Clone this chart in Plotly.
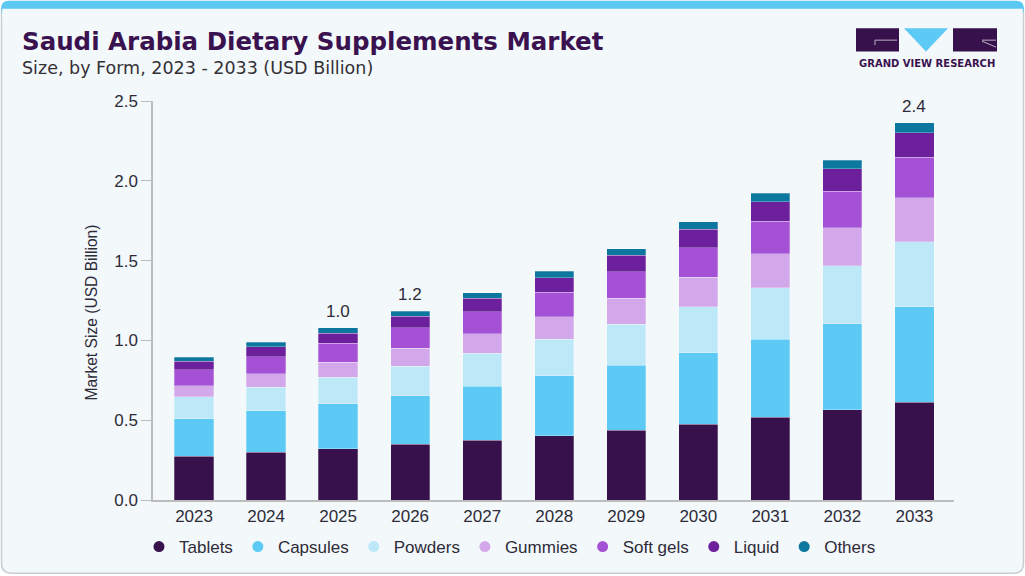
import plotly.graph_objects as go

# ---------------- data ----------------
years = ["2023", "2024", "2025", "2026", "2027", "2028", "2029", "2030", "2031", "2032", "2033"]
tablets = [0.273, 0.298, 0.321, 0.348, 0.373, 0.404, 0.438, 0.475, 0.517, 0.565, 0.612]
capsules = [0.235, 0.260, 0.281, 0.306, 0.339, 0.373, 0.407, 0.447, 0.490, 0.538, 0.599]
powders = [0.138, 0.148, 0.167, 0.185, 0.206, 0.229, 0.256, 0.289, 0.323, 0.364, 0.406]
gummies = [0.070, 0.085, 0.095, 0.112, 0.125, 0.143, 0.162, 0.185, 0.212, 0.239, 0.278]
soft_gels = [0.100, 0.108, 0.119, 0.129, 0.137, 0.154, 0.167, 0.185, 0.204, 0.229, 0.252]
liquid = [0.054, 0.061, 0.062, 0.071, 0.083, 0.091, 0.103, 0.115, 0.124, 0.139, 0.154]
others = [0.023, 0.027, 0.033, 0.033, 0.036, 0.038, 0.040, 0.046, 0.053, 0.056, 0.062]
series_names = ["Tablets", "Capsules", "Powders", "Gummies", "Soft gels", "Liquid", "Others"]
total_labels = {"2025": "1.0", "2026": "1.2", "2033": "2.4"}
y_ticks = [0.0, 0.5, 1.0, 1.5, 2.0, 2.5]

series_values = [tablets, capsules, powders, gummies, soft_gels, liquid, others]
colors = ["#37114B", "#5DCAF6", "#BDE8F8", "#D3A8EA", "#A451D6", "#6D209B", "#0C779F"]

W, H = 1025, 576
ML, MR, MT, MB = 153, 71, 101, 75
PW, PH = W - ML - MR, H - MT - MB


def px(x):
    return (x - ML) / PW


def py(y):
    return (H - MB - y) / PH


TEXT = "#2E2B38"
FONT = "Liberation Sans, Arial, sans-serif"

fig = go.Figure()

for name, vals, col in zip(series_names, series_values, colors):
    fig.add_trace(go.Bar(
        x=years, y=vals, name=name, marker_color=col,
        marker_line=dict(width=0.6, color="rgba(255,255,255,0.45)"),
        showlegend=False,
    ))

for name, col in zip(series_names, colors):
    fig.add_trace(go.Scatter(
        x=[None], y=[None], mode="markers", name=name,
        marker=dict(symbol="circle", size=11, color=col),
        showlegend=True,
    ))

annotations = []
for yr, txt in total_labels.items():
    i = years.index(yr)
    tot = sum(v[i] for v in series_values)
    annotations.append(dict(xref="x", yref="y", x=i, y=tot, text=txt, showarrow=False, yanchor="bottom",
                            yshift=5, font=dict(size=17, color=TEXT, family=FONT)))

# titles
annotations.append(dict(xref="paper", yref="paper", x=px(20), y=py(41), xanchor="left", yanchor="middle",
                        text="Saudi Arabia Dietary Supplements Market", showarrow=False,
                        font=dict(size=24.5, color="#3A1250", family="DejaVu Sans, sans-serif", weight="bold")))
annotations.append(dict(xref="paper", yref="paper", x=px(20), y=py(68), xanchor="left", yanchor="middle",
                        text="Size, by Form, 2023 - 2033 (USD Billion)", showarrow=False,
                        font=dict(size=17.5, color="#333036", family="DejaVu Sans, sans-serif")))
annotations.append(dict(xref="paper", yref="paper", x=px(91), y=py(313), xanchor="center", yanchor="middle",
                        text="Market Size (USD Billion)", textangle=-90, showarrow=False,
                        font=dict(size=15.6, color=TEXT, family=FONT)))
annotations.append(dict(xref="paper", yref="paper", x=px(926.5), y=py(63.5), xanchor="center", yanchor="middle",
                        text="<b>GRAND VIEW RESEARCH</b>", showarrow=False,
                        font=dict(size=10, color="#3A1250", family="DejaVu Sans, sans-serif")))

# card shapes
def rrect(x0, y0, x1, y1, r):
    X0, X1 = px(x0), px(x1)
    Y0, Y1 = py(y0), py(y1)
    rx, ry = r / PW, r / PH
    return (f"M {X0+rx} {Y0} L {X1-rx} {Y0} Q {X1} {Y0} {X1} {Y0-ry} "
            f"L {X1} {Y1+ry} Q {X1} {Y1} {X1-rx} {Y1} L {X0+rx} {Y1} "
            f"Q {X0} {Y1} {X0} {Y1+ry} L {X0} {Y0-ry} Q {X0} {Y0} {X0+rx} {Y0} Z")


shapes = [
    dict(type="path", xref="paper", yref="paper", path=rrect(1.5, 1.5, 1023.5, 574.5, 10),
         fillcolor="#F3F8FB", line=dict(color="#C9CED2", width=1.5), layer="below"),
    dict(type="path", xref="paper", yref="paper", path=rrect(1, 0.5, 1024, 16, 8),
         fillcolor="#5CC9F3", line=dict(width=0), layer="below"),
    dict(type="rect", xref="paper", yref="paper", x0=px(2.2), x1=px(1022.8), y0=py(8.5), y1=py(18),
         fillcolor="#F3F8FB", line=dict(width=0), layer="below"),
    # logo
    dict(type="rect", xref="paper", yref="paper", x0=px(856), x1=px(899), y0=py(28), y1=py(51.5),
         fillcolor="#37114B", line=dict(width=0)),
    dict(type="path", xref="paper", yref="paper",
         path=f"M {px(904)} {py(28)} L {px(948)} {py(28)} L {px(926)} {py(51.5)} Z",
         fillcolor="#5DCAF6", line=dict(width=0)),
    dict(type="rect", xref="paper", yref="paper", x0=px(953), x1=px(997), y0=py(28), y1=py(51.5),
         fillcolor="#37114B", line=dict(width=0)),
    dict(type="path", xref="paper", yref="paper",
         path=f"M {px(875)} {py(45)} L {px(875)} {py(40)} L {px(897)} {py(40)}",
         line=dict(color="#B9B2C4", width=1)),
    dict(type="path", xref="paper", yref="paper",
         path=f"M {px(982)} {py(40)} L {px(996)} {py(40)} M {px(982)} {py(41)} L {px(996)} {py(47)}",
         line=dict(color="#B9B2C4", width=1)),
]

fig.update_layout(
    width=W, height=H,
    margin=dict(l=ML, r=MR, t=MT, b=MB),
    paper_bgcolor="#FFFFFF", plot_bgcolor="rgba(0,0,0,0)",
    barmode="stack", bargap=0.455,
    font=dict(family=FONT, color=TEXT, size=17),
    xaxis=dict(type="category", range=[-0.57, 10.55], showgrid=False, zeroline=False,
               showline=True, linecolor="#BDBDBD", linewidth=1.5, ticks="",
               tickfont=dict(size=17, color=TEXT)),
    yaxis=dict(range=[0, 2.5], tickvals=y_ticks, ticktext=[f"{v:.1f}" for v in y_ticks],
               showgrid=False, zeroline=False, showline=True, linecolor="#BDBDBD", linewidth=1.5,
               ticks="outside", ticklen=10, tickcolor="#BDBDBD", tickwidth=1,
               tickfont=dict(size=17, color=TEXT)),
    legend=dict(orientation="h", x=px(510), xanchor="center", y=py(547), yanchor="middle",
                traceorder="normal",
                font=dict(size=17, color=TEXT), bgcolor="rgba(0,0,0,0)", itemwidth=30),
    annotations=annotations,
    shapes=shapes,
)

fig.write_html("out.html", config={"displayModeBar": False},
               post_script="document.body.style.margin='0';document.body.style.overflow='hidden';")
